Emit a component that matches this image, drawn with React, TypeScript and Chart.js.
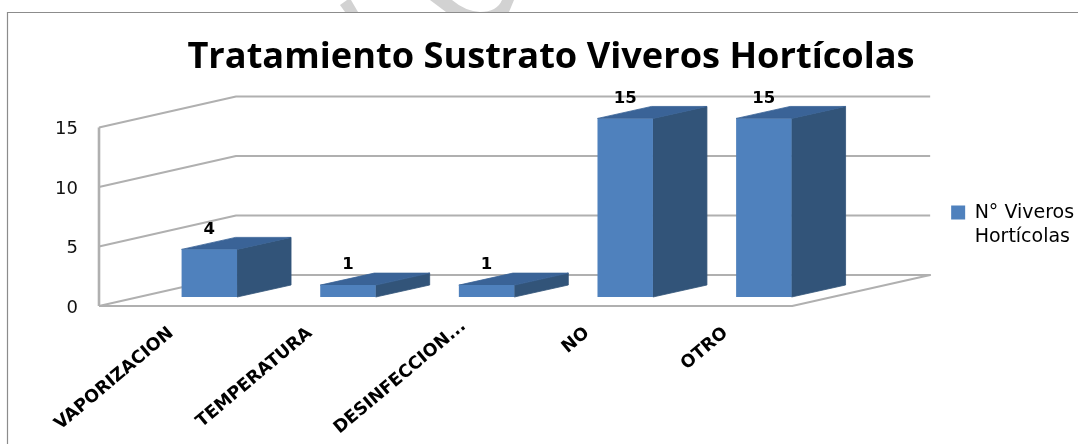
import React, { useEffect, useRef } from "react";
import { Chart, registerables } from "chart.js";

Chart.register(...registerables);

const categories = ["VAPORIZACION", "TEMPERATURA", "DESINFECCION...", "NO", "OTRO"];
const seriesName = ["N° Viveros", "Hortícolas"];
const values = [4, 1, 1, 15, 15];
const yTicks = [0, 5, 10, 15];
const titleText = "Tratamiento Sustrato Viveros Hortícolas";

const FONT = "'Open Sans', sans-serif";
const WIDE = "'DejaVu Sans', sans-serif";
const FRONT = "#4F81BD";
const SIDE = "#325479";
const TOP = "#3A6397";
const GRID = "#b0b0b0";

// 3D projection of the chart: the wall depth and the bars' inset on the floor.
const WALL_DX = 137;
const WALL_DY = -31;
const BAR_DX = 41;
const BAR_DY = -9;
const BAR_DEPTH_X = 54;
const BAR_DEPTH_Y = -12;
const RIGHT_PAD = 153;

const decor = {
  id: "decor",
  beforeDraw(chart: any) {
    const { ctx } = chart;
    // the truncated label sits a little further along its diagonal in the reference
    const item = chart.scales.x.getLabelItems()[2];
    if (item && !item.nudged) {
      item.nudged = true;
      item.options.translation[0] += 15;
      item.options.translation[1] -= 7;
    }
    ctx.save();
    ctx.fillStyle = "#fff";
    ctx.fillRect(0, 0, chart.width, chart.height);
    // faint watermark fragments above the frame
    ctx.fillStyle = "#d2d2d2";
    ctx.beginPath();
    ctx.moveTo(340, 5);
    ctx.lineTo(347, 0);
    ctx.lineTo(351, 0);
    ctx.lineTo(358, 12);
    ctx.lineTo(345, 12);
    ctx.closePath();
    ctx.fill();
    ctx.beginPath();
    ctx.moveTo(430, 0);
    ctx.lineTo(452, 0);
    ctx.quadraticCurveTo(465, 11, 480, 12);
    ctx.quadraticCurveTo(497, 12, 502, 0);
    ctx.lineTo(514, 0);
    ctx.lineTo(509, 12);
    ctx.lineTo(446, 12);
    ctx.closePath();
    ctx.fill();
    // frame
    ctx.strokeStyle = "#8c8c8c";
    ctx.lineWidth = 1.2;
    ctx.beginPath();
    ctx.moveTo(7.5, chart.height);
    ctx.lineTo(7.5, 12.5);
    ctx.lineTo(chart.width, 12.5);
    ctx.stroke();
    ctx.restore();
  },
  afterLayout(chart: any) {
    const lg = chart.legend;
    const dx = RIGHT_PAD + 2;
    lg.left += dx;
    lg.right += dx;
    lg.top += 6;
    lg.bottom += 6;
    const t = chart.titleBlock;
    t.left += 76.5;
    t.right += 76.5;
  },
  beforeDatasetsDraw(chart: any) {
    const { ctx, chartArea: a, scales } = chart;
    const y = scales.y;
    ctx.save();
    ctx.strokeStyle = GRID;
    ctx.lineWidth = 2;
    ctx.lineJoin = "round";
    for (const v of yTicks) {
      const py = y.getPixelForValue(v);
      ctx.beginPath();
      ctx.moveTo(a.left, py);
      ctx.lineTo(a.left + WALL_DX, py + WALL_DY);
      ctx.lineTo(a.right + WALL_DX + 1, py + WALL_DY);
      if (v === 0) {
        ctx.lineTo(a.right, py);
        ctx.lineTo(a.left, py);
      }
      ctx.stroke();
    }
    ctx.lineWidth = 2.6;
    ctx.beginPath();
    ctx.moveTo(a.left, y.getPixelForValue(yTicks[yTicks.length - 1]));
    ctx.lineTo(a.left, y.getPixelForValue(0));
    ctx.stroke();
    ctx.restore();

    // native bars are drawn shifted onto the floor of the 3D box
    ctx.save();
    ctx.translate(BAR_DX, BAR_DY);
    // sides and tops go under the front faces
    const meta = chart.getDatasetMeta(0);
    ctx.lineWidth = 0.8;
    for (const bar of meta.data) {
      const p = bar.getProps(["x", "y", "base", "width"], true);
      const l = p.x - p.width / 2;
      const r = p.x + p.width / 2;
      ctx.fillStyle = SIDE;
      ctx.strokeStyle = SIDE;
      ctx.beginPath();
      ctx.moveTo(r, p.y);
      ctx.lineTo(r + BAR_DEPTH_X, p.y + BAR_DEPTH_Y);
      ctx.lineTo(r + BAR_DEPTH_X, p.base + BAR_DEPTH_Y);
      ctx.lineTo(r, p.base);
      ctx.closePath();
      ctx.fill();
      ctx.stroke();
      ctx.fillStyle = TOP;
      ctx.strokeStyle = TOP;
      ctx.beginPath();
      ctx.moveTo(l, p.y);
      ctx.lineTo(l + BAR_DEPTH_X, p.y + BAR_DEPTH_Y);
      ctx.lineTo(r + BAR_DEPTH_X, p.y + BAR_DEPTH_Y);
      ctx.lineTo(r, p.y);
      ctx.closePath();
      ctx.fill();
      ctx.stroke();
    }
  },
  afterDatasetsDraw(chart: any) {
    const { ctx } = chart;
    const meta = chart.getDatasetMeta(0);
    ctx.fillStyle = "#000";
    ctx.font = `bold 16.5px ${WIDE}`;
    ctx.textAlign = "center";
    ctx.textBaseline = "middle";
    meta.data.forEach((bar: any, i: number) => {
      const p = bar.getProps(["x", "y"], true);
      ctx.fillText(String(values[i]), p.x, p.y - 20);
    });
    ctx.restore();
  },
};

export default function App() {
  const ref = useRef<HTMLCanvasElement>(null);
  useEffect(() => {
    const chart = new Chart(ref.current!, {
      type: "bar",
      data: {
        labels: categories,
        datasets: [
          {
            label: seriesName.join(" "),
            data: values,
            backgroundColor: FRONT,
            borderWidth: 0,
            barPercentage: 0.4,
            categoryPercentage: 1,
          },
        ],
      },
      options: {
        responsive: false,
        animation: false,
        events: [],
        layout: { padding: { left: 24, right: RIGHT_PAD, top: 0, bottom: 0 } },
        plugins: {
          tooltip: { enabled: false },
          title: {
            display: true,
            text: titleText,
            color: "#000",
            font: { family: FONT, size: 36.2, weight: "bold", lineHeight: 1.2 },
            padding: { top: 36, bottom: 48 },
          },
          legend: {
            position: "right",
            labels: {
              color: "#111",
              font: { family: WIDE, size: 19, lineHeight: 1.31 },
              boxWidth: 14,
              boxHeight: 14,
              padding: 4,
              generateLabels: () => [
                {
                  text: seriesName as any,
                  fillStyle: FRONT,
                  strokeStyle: FRONT,
                  lineWidth: 0,
                  datasetIndex: 0,
                  hidden: false,
                },
              ],
            },
          },
        },
        scales: {
          x: {
            grid: { display: false },
            border: { display: false },
            ticks: {
              autoSkip: false,
              minRotation: 40,
              maxRotation: 40,
              color: "#000",
              padding: 9,
              labelOffset: 3,
              font: { family: WIDE, size: 17.5, weight: "bold" },
            },
            afterFit(s: any) {
              s.height = 138;
            },
          },
          y: {
            min: 0,
            max: 15,
            grid: { display: false },
            border: { display: false },
            afterBuildTicks(s: any) {
              s.ticks = yTicks.map((value) => ({ value }));
            },
            ticks: {
              color: "#111",
              padding: 13,
              labelOffset: 2,
              font: { family: WIDE, size: 18 },
            },
            afterFit(s: any) {
              s.width = 75;
            },
          },
        },
      },
      plugins: [decor],
    } as any);
    return () => chart.destroy();
  }, []);
  return (
    <div style={{ position: "absolute", left: 0, top: 0, width: 1078, height: 444, overflow: "hidden" }}>
      <canvas ref={ref} width={1078} height={444} style={{ display: "block" }} />
    </div>
  );
}
